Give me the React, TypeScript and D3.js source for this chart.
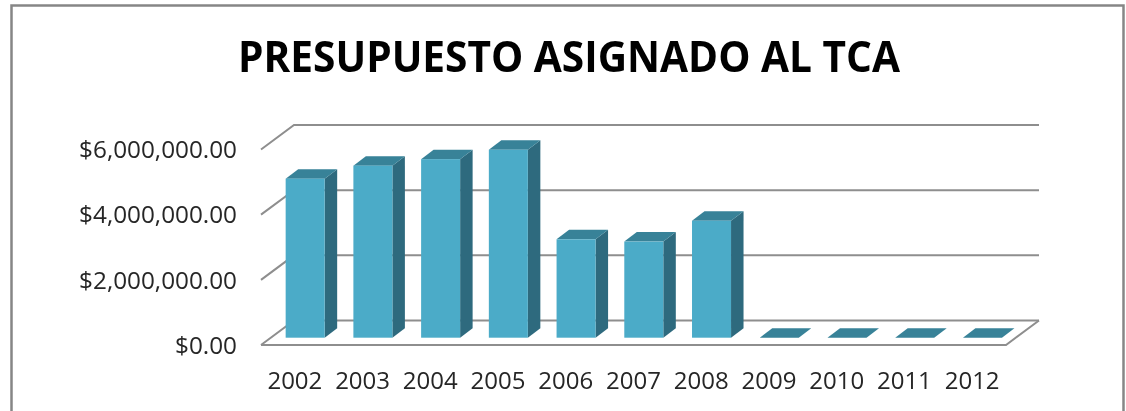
import { useEffect, useRef } from "react";
import * as d3 from "d3";

const years = ["2002", "2003", "2004", "2005", "2006", "2007", "2008", "2009", "2010", "2011", "2012"];
const budget = [4880000, 5280000, 5480000, 5770000, 3020000, 2950000, 3590000, 0, 0, 0, 0];
const yTicks = [0, 2000000, 4000000, 6000000];
const chartTitle = "PRESUPUESTO ASIGNADO AL TCA";

const App = () => {
  const svgRef = useRef<SVGSVGElement | null>(null);

  useEffect(() => {
    const svg = d3.select(svgRef.current);
    svg.selectAll("*").remove();

    const width = 1126;
    const height = 411;
    const font = "'Open Sans', sans-serif";

    // depth of the 3D floor and of each bar
    const depth = { x: 33, y: -24.5 };
    const barDepth = { x: 12.5, y: -9.5 };
    const barOffset = { x: 10.3, y: -7.3 };

    const x = d3.scaleBand().domain(years).range([261, 1006]).paddingInner(0.424).paddingOuter(0.212);
    const y = d3.scaleLinear().domain([0, 6000000]).range([345, 149.5]);
    const money = d3.format("$,.2f");

    const defs = svg.append("defs");
    defs.append("filter").attr("id", "soft").append("feGaussianBlur").attr("stdDeviation", 0.5);

    const root = svg.append("g").attr("filter", "url(#soft)");

    root
      .append("rect")
      .attr("x", 11.5)
      .attr("y", 5.5)
      .attr("width", 1112)
      .attr("height", height + 30)
      .attr("fill", "#fff")
      .attr("stroke", "#868686")
      .attr("stroke-width", 2.5);

    root
      .append("text")
      .attr("x", 569)
      .attr("y", 72)
      .attr("text-anchor", "middle")
      .attr("font-family", font)
      .attr("font-weight", 700)
      .attr("font-size", 43)
      .attr("textLength", 662)
      .attr("lengthAdjust", "spacingAndGlyphs")
      .attr("fill", "#000")
      .text(chartTitle);

    // Gridlines: wall plus the slanted side
    const gridColor = "#8e8e8e";
    const grid = root.append("g").attr("fill", "none").attr("stroke", gridColor).attr("stroke-width", 2);
    yTicks.forEach((t) => {
      grid
        .append("path")
        .attr("d", `M261,${y(t)}L${261 + depth.x},${y(t) + depth.y}L${1006 + depth.x},${y(t) + depth.y}`);
    });

    // Floor
    grid
      .append("path")
      .attr("d", `M261,${y(0)}L1006,${y(0)}L${1006 + depth.x},${y(0) + depth.y}`);

    // Y labels
    root
      .append("g")
      .selectAll("text")
      .data(yTicks)
      .join("text")
      .attr("x", 237)
      .attr("y", (d) => y(d))
      .attr("dy", "0.36em")
      .attr("text-anchor", "end")
      .attr("font-family", font)
      .attr("font-size", 24.3)
      .attr("fill", "#262626")
      .text((d) => money(d));

    // X labels
    root
      .append("g")
      .selectAll("text")
      .data(years)
      .join("text")
      .attr("x", (d) => (x(d) as number) + x.bandwidth() / 2)
      .attr("y", 389)
      .attr("text-anchor", "middle")
      .attr("font-family", font)
      .attr("font-size", 24)
      .attr("fill", "#262626")
      .text((d) => d);

    // Bars: front, side, top
    const bars = root
      .append("g")
      .selectAll("g")
      .data(years.map((year, i) => ({ year, value: budget[i] })))
      .join("g")
      .attr("transform", `translate(${barOffset.x},${barOffset.y})`);

    const w = x.bandwidth();
    bars
      .filter((d) => d.value > 0)
      .append("path")
      .attr("fill", "#2f6a7e")
      .attr("d", (d) => {
        const x1 = (x(d.year) as number) + w;
        return `M${x1},${y(d.value)}l${barDepth.x},${barDepth.y}L${x1 + barDepth.x},${y(0) + barDepth.y}L${x1},${y(0)}Z`;
      });
    bars
      .append("path")
      .attr("fill", "#378298")
      .attr("d", (d) => {
        const x0 = x(d.year) as number;
        return `M${x0},${y(d.value)}l${barDepth.x},${barDepth.y}h${w}l${-barDepth.x},${-barDepth.y}Z`;
      });
    bars
      .filter((d) => d.value > 0)
      .append("rect")
      .attr("x", (d) => x(d.year) as number)
      .attr("y", (d) => y(d.value))
      .attr("width", w)
      .attr("height", (d) => y(0) - y(d.value))
      .attr("fill", "#4babc8");
  }, []);

  return (
    <svg
      ref={svgRef}
      width={1126}
      height={411}
      style={{ position: "absolute", left: 0, top: 0, display: "block" }}
    ></svg>
  );
};

export default App;
